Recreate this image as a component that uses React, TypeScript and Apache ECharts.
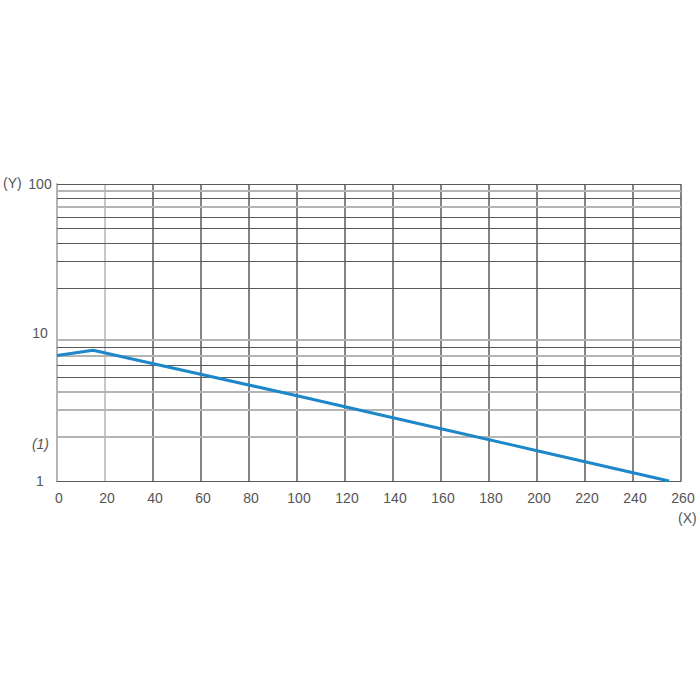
import React, { useEffect, useRef } from "react";
import * as echarts from "echarts";

const xValues = [0, 15, 100, 160, 200, 255];
const yValues = [7.0, 7.6, 3.75, 2.25, 1.6, 1.0];
const darkGridY = [100, 80, 60, 50, 40, 30, 20, 8, 6, 5];
const lightGridY = [90, 70, 9, 7, 4, 3, 2];
const yAxisLabels: Record<number, string> = { 1: "1", 10: "10", 100: "100" };

export default function App() {
  const ref = useRef<HTMLDivElement>(null);
  useEffect(() => {
    if (!ref.current) return;
    const chart = echarts.init(ref.current, null, { renderer: "svg" });
    const font = "Liberation Sans, Arial, sans-serif";
    const markData: any[] = [
      ...darkGridY.map((v) => ({
        yAxis: v,
        lineStyle: { color: "#5a5a5a", width: 1, type: "solid" },
        label: { show: false },
      })),
      ...lightGridY.map((v) => ({
        yAxis: v,
        lineStyle: { color: "#b4b4b4", width: 2, type: "solid" },
        label:
          v === 2
            ? {
                show: true,
                position: "start",
                formatter: "(1)",
                fontStyle: "italic",
                fontFamily: font,
                fontSize: 14,
                color: "#555",
                distance: 8,
                offset: [0, 8],
              }
            : { show: false },
      })),
    ];
    chart.setOption({
      animation: false,
      backgroundColor: "#fff",
      grid: { left: 57, right: 19, top: 184, bottom: 219, containLabel: false },
      xAxis: {
        type: "value",
        min: 0,
        max: 260,
        interval: 20,
        axisLine: { show: true, lineStyle: { color: "#5a5a5a", width: 1 } },
        axisTick: { show: false },
        axisLabel: {
          color: "#555",
          fontSize: 14,
          fontFamily: font,
          margin: 10,
          padding: [0, 0, 0, 4],
        },
        splitLine: {
          show: true,
          lineStyle: {
            color: ["#b4b4b4", "#b4b4b4", "#5a5a5a", "#5a5a5a", "#5a5a5a", "#5a5a5a", "#5a5a5a", "#5a5a5a", "#5a5a5a", "#5a5a5a", "#5a5a5a", "#5a5a5a", "#5a5a5a", "#5a5a5a"],
            width: 1.5,
          },
        },
      },
      yAxis: {
        type: "log",
        logBase: 10,
        min: 1,
        max: 100,
        axisLine: { show: true, lineStyle: { color: "#b4b4b4", width: 2 } },
        axisTick: { show: false },
        axisLabel: {
          color: "#555",
          fontSize: 14,
          fontFamily: font,
          margin: 17,
          align: "center",
          formatter: (v: number) => yAxisLabels[Math.round(v)] ?? "",
        },
        splitLine: { show: false },
      },
      graphic: [
        {
          type: "text",
          left: 3,
          top: 176,
          style: { text: "(Y)", fill: "#555", font: `14px ${font}` },
        },
        {
          type: "text",
          left: 678,
          top: 511,
          style: { text: "(X)", fill: "#555", font: `14px ${font}` },
        },
      ],
      series: [
        {
          type: "line",
          data: xValues.map((x, i) => [x, yValues[i]]),
          showSymbol: false,
          symbol: "none",
          lineStyle: { color: "#1d87c9", width: 3 },
          z: 5,
          markLine: {
            silent: true,
            symbol: "none",
            animation: false,
            data: markData,
            z: 1,
          },
        },
      ],
    });
    return () => chart.dispose();
  }, []);
  return (
    <div
      ref={ref}
      style={{ position: "fixed", left: 0, top: 0, width: 700, height: 700, background: "#fff" }}
    />
  );
}
